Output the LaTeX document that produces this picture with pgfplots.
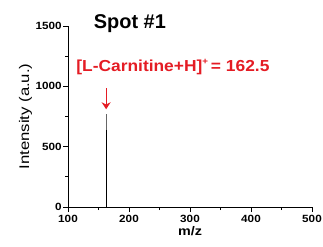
\documentclass[border=0pt]{standalone}
\usepackage{pgfplots}
\pgfplotsset{compat=1.18}
\usetikzlibrary{arrows.meta,calc}
\usepackage{graphicx}
\usepackage{fontspec}
\setmainfont{Liberation Sans}
\definecolor{lbl}{RGB}{228,28,36}
\begin{document}
\begin{tikzpicture}
\begin{axis}[
  scale only axis, width=244bp, height=181bp,
  xmin=100, xmax=500, ymin=0, ymax=1500,
  axis x line*=bottom, axis y line*=left,
  axis line style={line width=0.8pt},
  xtick={100,200,300,400,500}, ytick={0,500,1000,1500},
  minor xtick={150,250,350,450}, minor ytick={250,750,1250},
  tick align=outside, major tick length=5bp, minor tick length=3bp,
  tick style={line width=0.7pt, black},
  /pgf/number format/assume math mode=true,
  /pgf/number format/1000 sep={},
  tick label style={font=\fontsize{10.5}{12}\selectfont\bfseries, xscale=1.12},
  xticklabel style={inner sep=1bp, yshift=-2bp},
  yticklabel style={inner sep=1bp},
  xlabel={\scalebox{1.15}[1]{\fontsize{12.5}{14}\selectfont\bfseries m/z}},
  ylabel={\scalebox{1.2}[1]{\fontsize{14}{16}\selectfont Intensity (a.u.)}},
  xlabel style={yshift=1bp},
  ylabel style={yshift=-1bp},
  clip=false,
]
\addplot[black, line width=1pt] coordinates {(162.5,0) (162.5,640)};
\addplot[black!60, line width=0.6pt] coordinates {(162.5,640) (162.5,770)};
\draw[-{Stealth[length=7bp,width=9bp]}, lbl, line width=1.1pt] (axis cs:162.5,985) -- (axis cs:162.5,810);
\node[lbl, anchor=base, inner sep=0pt] at (axis cs:272,1119) {\scalebox{1.09}[1]{\fontsize{16}{18}\selectfont\bfseries [L-Carnitine+H]\raisebox{0.45em}{\fontsize{9}{9}\selectfont +}\,= 162.5}};
\node[anchor=base, inner sep=0pt, font=\fontsize{20}{22}\selectfont\bfseries] at (axis cs:201.5,1479) {Spot \#1};
\end{axis}
\pgfresetboundingbox
\path[use as bounding box] ($(current axis.south west)+(-68bp,-39bp)$) rectangle ($(current axis.north east)+(11bp,26bp)$);
\end{tikzpicture}
\end{document}
